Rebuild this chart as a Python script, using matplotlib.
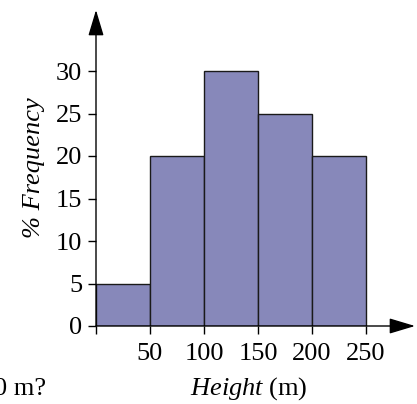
import matplotlib.pyplot as plt

# datos del histograma
bordes = [0, 50, 100, 150, 200]
frecuencia = [5, 20, 30, 25, 20]
ancho = 50
ticks_x = [50, 100, 150, 200, 250]
ticks_y = [0, 5, 10, 15, 20, 25, 30]

plt.rcParams['font.family'] = ['Liberation Serif', 'DejaVu Serif']
plt.rcParams['mathtext.fontset'] = 'custom'
plt.rcParams['mathtext.it'] = 'Liberation Serif:italic'
plt.rcParams['mathtext.rm'] = 'Liberation Serif'

fig = plt.figure(figsize=(4.17, 4.04), dpi=100)
W, H = 417, 404
# ejes: origen en (96, 326) px, 1.08 px/m y 8.5 px/%
x0, y0 = 96, 326
ax = fig.add_axes([x0 / W, (H - y0) / H, (415 - x0) / W, (y0 - 10) / H])
ax.set_xlim(0, (415 - x0) / 1.08)
ax.set_ylim(0, (y0 - 10) / 8.5)

ax.bar(bordes, frecuencia, width=ancho, align='edge', color='#8788ba',
       edgecolor='#1a1a1a', linewidth=1.0, zorder=2)

for s in ax.spines.values():
    s.set_visible(False)

flecha = dict(arrowstyle='-|>,head_length=0.8,head_width=0.24', color='black',
              lw=1.0, mutation_scale=20, shrinkA=0, shrinkB=0)
ax.annotate('', xy=(1, 0), xytext=(0, 0), xycoords='axes fraction',
            arrowprops=flecha, zorder=3)
ax.annotate('', xy=(0, 1), xytext=(0, 0), xycoords='axes fraction',
            arrowprops=flecha, zorder=3)

ax.set_xticks([0] + ticks_x)
ax.set_xticklabels([''] + [str(t) for t in ticks_x])
ax.set_yticks(ticks_y)
ax.tick_params(axis='both', direction='out', length=6, width=1.0,
               labelsize=19, pad=4, color='black')
ax.tick_params(axis='x', pad=6)

ax.set_ylabel('% Frequency', fontsize=19, style='italic', labelpad=8)
fig.text(249 / W, 1 - 389 / H, r'$\mathit{Height}$ (m)', fontsize=19,
         ha='center', va='center')
fig.text(-6 / W, 1 - 389 / H, '0 m?', fontsize=19, ha='left', va='center')

fig.savefig('out.png', dpi=100)
